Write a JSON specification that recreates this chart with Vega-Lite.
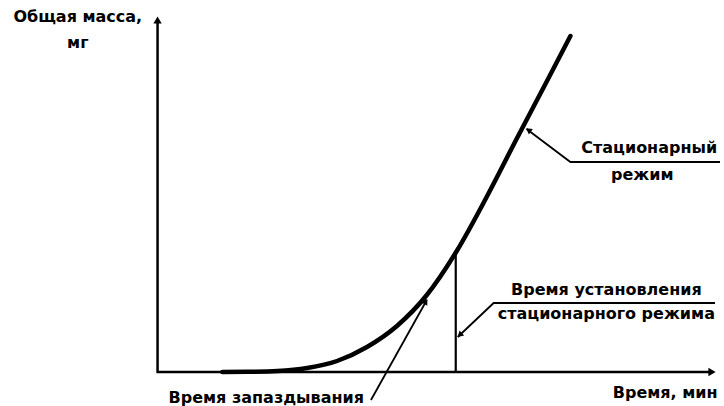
{
  "$schema": "https://vega.github.io/schema/vega-lite/v6.json",
  "width": 724,
  "height": 406,
  "padding": 0,
  "autosize": {"type": "fit", "contains": "padding"},
  "background": "white",
  "config": {"view": {"stroke": null}},
  "datasets": {
    "curve": [
      {"x": 6.5, "y": 0},
      {"x": 9, "y": 0.02},
      {"x": 12, "y": 0.1},
      {"x": 15, "y": 0.4},
      {"x": 18, "y": 1.1},
      {"x": 21, "y": 2.5},
      {"x": 24, "y": 4.6},
      {"x": 27, "y": 7.7},
      {"x": 30, "y": 12.1},
      {"x": 33, "y": 17.5},
      {"x": 36, "y": 23.3},
      {"x": 39, "y": 29.0},
      {"x": 41.4, "y": 33.6}
    ],
    "axes": [
      {"x": 0, "y": 35.0, "o": 1},
      {"x": 0, "y": 0, "o": 2},
      {"x": 55.4, "y": 0, "o": 3}
    ],
    "leaders": [
      {"id": "lag", "x": 21.4, "y": -2.8, "o": 1},
      {"id": "lag", "x": 27.0, "y": 7.2, "o": 2},
      {"id": "tss", "x": 30.1, "y": 3.5, "o": 1},
      {"id": "tss", "x": 33.7, "y": 6.9, "o": 2},
      {"id": "tss", "x": 55.9, "y": 6.9, "o": 3},
      {"id": "steady", "x": 37.0, "y": 24.3, "o": 1},
      {"id": "steady", "x": 41.4, "y": 21.0, "o": 2},
      {"id": "steady", "x": 56.4, "y": 21.0, "o": 3}
    ],
    "vert": [
      {"x": 29.9, "y": 0},
      {"x": 29.9, "y": 12.0}
    ],
    "arrows": [
      {"x": 0, "y": 35.2, "heading": 0, "kind": "axis"},
      {"x": 55.6, "y": 0, "heading": 90, "kind": "axis"},
      {"x": 37.2, "y": 24.2, "heading": 307, "kind": "leader"},
      {"x": 30.3, "y": 3.7, "heading": 227, "kind": "leader"},
      {"x": 26.9, "y": 7.05, "heading": 29, "kind": "leader"}
    ],
    "labels": [
      {"x": -8.0, "y": 35.5, "text": "Общая масса,"},
      {"x": -8.0, "y": 32.9, "text": "мг"},
      {"x": 50.9, "y": -2.1, "text": "Время, мин"},
      {"x": 10.9, "y": -2.6, "text": "Время запаздывания"},
      {"x": 49.3, "y": 22.4, "text": "Стационарный"},
      {"x": 48.6, "y": 19.7, "text": "режим"},
      {"x": 45.0, "y": 8.2, "text": "Время установления"},
      {"x": 45.0, "y": 5.8, "text": "стационарного режима"}
    ]
  },
  "encoding": {
    "x": {"field": "x", "type": "quantitative", "axis": null, "scale": {"domain": [-15.8, 56.6], "nice": false, "zero": false}},
    "y": {"field": "y", "type": "quantitative", "axis": null, "scale": {"domain": [-3.4, 37.2], "nice": false, "zero": false}}
  },
  "layer": [
    {
      "data": {"name": "axes"},
      "mark": {"type": "line", "color": "black", "strokeWidth": 2.5, "strokeJoin": "miter"},
      "encoding": {"order": {"field": "o", "type": "quantitative"}}
    },
    {
      "data": {"name": "vert"},
      "mark": {"type": "line", "color": "black", "strokeWidth": 2.2},
      "encoding": {"order": {"field": "y", "type": "quantitative"}}
    },
    {
      "data": {"name": "leaders"},
      "mark": {"type": "line", "color": "black", "strokeWidth": 1.8},
      "encoding": {"detail": {"field": "id"}, "order": {"field": "o", "type": "quantitative"}}
    },
    {
      "data": {"name": "curve"},
      "mark": {"type": "line", "color": "black", "strokeWidth": 4.5, "interpolate": "monotone", "strokeCap": "round"},
      "encoding": {}
    },
    {
      "data": {"name": "arrows"},
      "transform": [{"filter": "datum.kind == 'axis'"}],
      "mark": {"type": "point", "shape": "triangle-up", "filled": true, "color": "black", "size": 70, "opacity": 1},
      "encoding": {"angle": {"field": "heading", "type": "quantitative", "scale": null}}
    },
    {
      "data": {"name": "arrows"},
      "transform": [{"filter": "datum.kind == 'leader'"}],
      "mark": {"type": "point", "shape": "triangle-up", "filled": true, "color": "black", "size": 45, "opacity": 1},
      "encoding": {"angle": {"field": "heading", "type": "quantitative", "scale": null}}
    },
    {
      "data": {"name": "labels"},
      "mark": {"type": "text", "font": "DejaVu Sans", "fontWeight": "bold", "fontSize": 16, "color": "black", "align": "center", "baseline": "middle"},
      "encoding": {"text": {"field": "text"}}
    }
  ]
}
